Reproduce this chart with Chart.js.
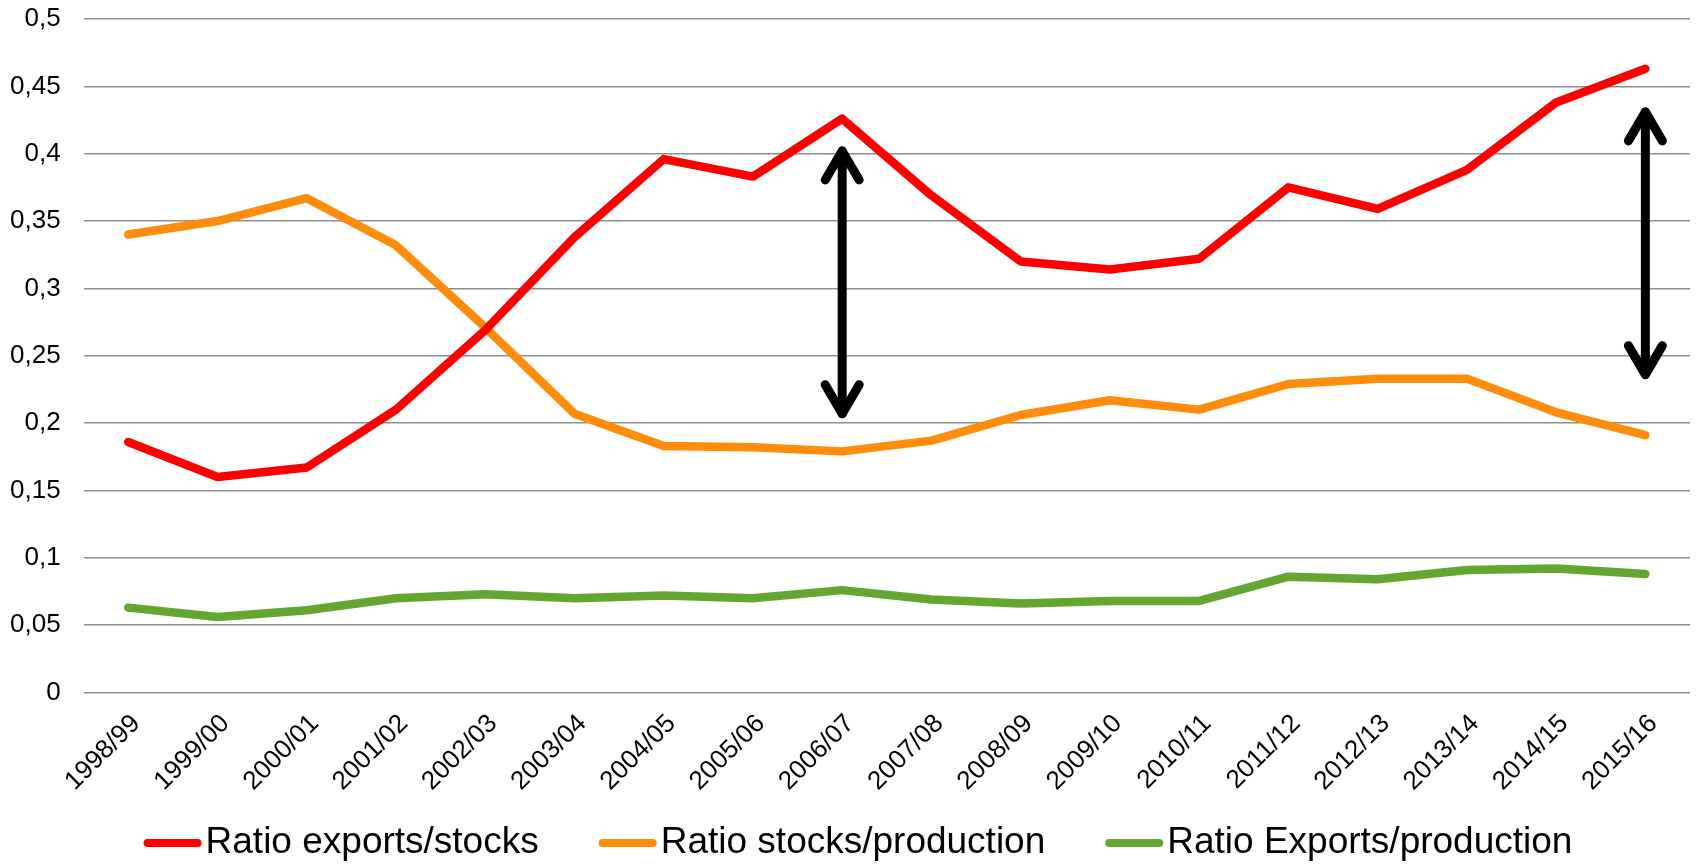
<!DOCTYPE html>
<html>
<head>
<meta charset="utf-8">
<script src="https://cdn.jsdelivr.net/npm/chart.js@4/dist/chart.umd.min.js"></script>
<style>
  html, body { margin: 0; padding: 0; background: #fff; }
  #wrap { width: 1696px; height: 865px; position: relative; }
</style>
</head>
<body>
<div id="wrap"><canvas id="ratioChart"></canvas></div>
<script>
// ===== DATA =====
const seasons = ['1998/99','1999/00','2000/01','2001/02','2002/03','2003/04','2004/05','2005/06','2006/07',
  '2007/08','2008/09','2009/10','2010/11','2011/12','2012/13','2013/14','2014/15','2015/16'];

const exportsStocks = [0.186, 0.160, 0.167, 0.210, 0.269, 0.338, 0.396, 0.383, 0.426,
  0.369, 0.320, 0.314, 0.322, 0.375, 0.359, 0.388, 0.438, 0.463];

const stocksProduction = [0.340, 0.350, 0.367, 0.332, 0.271, 0.207, 0.183, 0.182, 0.179,
  0.187, 0.206, 0.217, 0.210, 0.229, 0.233, 0.233, 0.208, 0.191];

const exportsProduction = [0.063, 0.056, 0.061, 0.070, 0.073, 0.070, 0.072, 0.070, 0.076,
  0.069, 0.066, 0.068, 0.068, 0.086, 0.084, 0.091, 0.092, 0.088];

const yTicks = [0, 0.05, 0.1, 0.15, 0.2, 0.25, 0.3, 0.35, 0.4, 0.45, 0.5];

// double arrows marking the gap between the two ratios
const arrowSeasons = ['2006/07', '2015/16'];
const arrowTop = [0.405, 0.434];
const arrowBottom = [0.204, 0.233];

const FONT = "'Liberation Sans', Arial, sans-serif";

// ===== DOUBLE ARROW PLUGIN =====
const doubleArrows = {
  id: 'doubleArrows',
  afterDatasetsDraw(chart) {
    const { ctx, scales: { x, y } } = chart;
    ctx.save();
    ctx.strokeStyle = '#000';
    ctx.lineWidth = 9;
    ctx.lineCap = 'round';
    ctx.lineJoin = 'round';
    arrowSeasons.forEach((s, i) => {
      const px = x.getPixelForValue(seasons.indexOf(s));
      const top = y.getPixelForValue(arrowTop[i]);
      const bot = y.getPixelForValue(arrowBottom[i]);
      // shaft
      ctx.beginPath();
      ctx.moveTo(px, top + 4);
      ctx.lineTo(px, bot - 4);
      ctx.stroke();
      // heads
      ctx.beginPath();
      ctx.moveTo(px - 17, top + 33);
      ctx.lineTo(px, top + 4);
      ctx.lineTo(px + 17, top + 33);
      ctx.moveTo(px - 17, bot - 33);
      ctx.lineTo(px, bot - 4);
      ctx.lineTo(px + 17, bot - 33);
      ctx.stroke();
    });
    ctx.restore();
  }
};

// ===== LEGEND (short line swatch right against the text) =====
const lineLegend = {
  id: 'lineLegend',
  afterDraw(chart) {
    const { ctx, width } = chart;
    const sets = chart.data.datasets;
    const swatch = 50, gap = 8, spacing = 64, y = 843;
    ctx.save();
    ctx.font = '37px ' + FONT;
    ctx.textBaseline = 'middle';
    ctx.textAlign = 'left';
    const widths = sets.map(d => ctx.measureText(d.label).width);
    const total = widths.reduce((a, w) => a + swatch + gap + w, 0) + spacing * (sets.length - 1);
    let cx = width / 2 + 12 - total / 2;
    sets.forEach((d, i) => {
      ctx.strokeStyle = d.borderColor;
      ctx.lineWidth = 8;
      ctx.lineCap = 'round';
      ctx.beginPath();
      ctx.moveTo(cx, y);
      ctx.lineTo(cx + swatch, y);
      ctx.stroke();
      ctx.fillStyle = '#000';
      ctx.fillText(d.label, cx + swatch + gap, y);
      cx += swatch + gap + widths[i] + spacing;
    });
    ctx.restore();
  }
};

// ===== CHART =====
const lineStyle = {
  borderWidth: 8.5,
  borderCapStyle: 'round',
  borderJoinStyle: 'round',
  pointRadius: 0,
  pointHoverRadius: 0,
  tension: 0,
  fill: false
};

new Chart(document.getElementById('ratioChart'), {
  type: 'line',
  data: {
    labels: seasons,
    datasets: [
      { label: 'Ratio exports/stocks', data: exportsStocks, borderColor: '#ff0000', ...lineStyle },
      { label: 'Ratio stocks/production', data: stocksProduction, borderColor: '#ff8c0a', ...lineStyle },
      { label: 'Ratio Exports/production', data: exportsProduction, borderColor: '#65a532', ...lineStyle }
    ]
  },
  options: {
    responsive: true,
    maintainAspectRatio: false,
    animation: false,
    layout: { padding: { top: 19, left: 10, right: 6, bottom: 68 } },
    plugins: {
      tooltip: { enabled: false },
      legend: { display: false }
    },
    scales: {
      x: {
        offset: true,
        border: { display: false },
        grid: { display: false, drawTicks: false },
        ticks: {
          autoSkip: false,
          minRotation: 45,
          maxRotation: 45,
          padding: 16,
          labelOffset: 8,
          color: '#000',
          font: { family: FONT, size: 26 }
        },
        afterFit: scale => {
          scale.paddingLeft = 0;
          scale.paddingRight = 0;
          scale.height -= scale.options.ticks.padding;
        }
      },
      y: {
        min: 0,
        max: 0.5,
        border: { display: false },
        grid: { color: '#8e8e8e', lineWidth: 1.6, drawTicks: false },
        afterBuildTicks: scale => { scale.ticks = yTicks.map(v => ({ value: v })); },
        afterFit: scale => {
          scale.paddingTop = 0;
          scale.paddingBottom = 0;
          scale.width -= scale.options.ticks.padding;
        },
        ticks: {
          padding: 23,
          color: '#000',
          font: { family: FONT, size: 26 },
          callback: v => String(+v.toFixed(2)).replace('.', ',')
        }
      }
    }
  },
  plugins: [doubleArrows, lineLegend]
});
</script>
</body>
</html>
